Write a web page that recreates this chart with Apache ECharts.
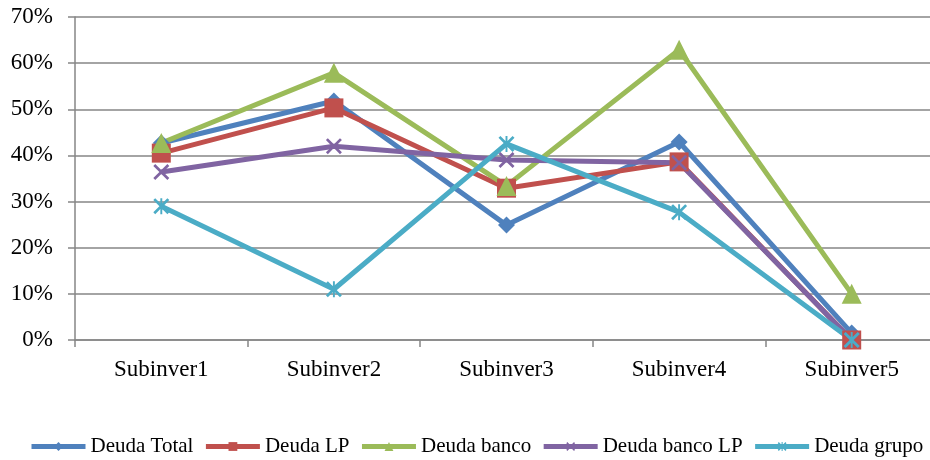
<!DOCTYPE html>
<html>
<head>
<meta charset="utf-8">
<script src="https://cdn.jsdelivr.net/npm/echarts@6/dist/echarts.min.js"></script>
<style>
  html, body { margin: 0; padding: 0; background: #fff; }
  #chart { width: 930px; height: 460px; }
</style>
</head>
<body>
<div id="chart"></div>
<script>
// Categories and series (percent values)
const categories = ['Subinver1', 'Subinver2', 'Subinver3', 'Subinver4', 'Subinver5'];
const deudaTotal   = [42.7, 51.8, 24.9, 42.9, 1.5];
const deudaLP      = [40.5, 50.3, 32.9, 38.6, 0];
const deudaBanco   = [42.7, 57.9, 33.4, 62.9, 10.0];
const deudaBancoLP = [36.4, 42.0, 39.0, 38.4, 0];
const deudaGrupo   = [29.0, 11.0, 42.5, 27.7, 0];
const yTicks = [0, 10, 20, 30, 40, 50, 60, 70];

const seriesNames = ['Deuda Total', 'Deuda LP', 'Deuda banco', 'Deuda banco LP', 'Deuda grupo'];
const seriesData = [deudaTotal, deudaLP, deudaBanco, deudaBancoLP, deudaGrupo];
const colors = ['#4F81BD', '#C0504D', '#9BBB59', '#8064A2', '#4BACC6'];

// Marker shapes: diamond, square, triangle, cross, asterisk
const crossPath = 'path://M0,1.2 L1.2,0 L5,3.8 L8.8,0 L10,1.2 L6.2,5 L10,8.8 L8.8,10 L5,6.2 L1.2,10 L0,8.8 L3.8,5 Z';
const starPath = 'path://M0,1.2 L1.2,0 L5,3.8 L8.8,0 L10,1.2 L6.2,5 L10,8.8 L8.8,10 L5,6.2 L1.2,10 L0,8.8 L3.8,5 Z M4.4,0 L5.6,0 L5.6,10 L4.4,10 Z';
const symbols = ['diamond', 'rect', 'triangle', crossPath, starPath];
const symbolSizes = [17, 19, 20, 16, 16];

const font = '"Liberation Serif", "Times New Roman", serif';

const chart = echarts.init(document.getElementById('chart'), null, { renderer: 'canvas' });
chart.setOption({
  animation: false,
  backgroundColor: '#fff',
  grid: { left: 75, top: 17, width: 863, height: 323, containLabel: false, outerBoundsMode: 'none' },
  xAxis: {
    type: 'category',
    data: categories,
    boundaryGap: true,
    axisLine: { show: true, lineStyle: { color: '#868686', width: 1.5 } },
    axisTick: { show: true, length: 7, lineStyle: { color: '#868686', width: 1.5 } },
    axisLabel: { color: '#000', fontSize: 23, fontFamily: font, margin: 18 },
    splitLine: { show: false }
  },
  yAxis: {
    type: 'value',
    min: yTicks[0],
    max: yTicks[yTicks.length - 1],
    interval: 10,
    axisLine: { show: true, lineStyle: { color: '#868686', width: 1.5 } },
    axisTick: { show: true, length: 7, lineStyle: { color: '#868686', width: 1.5 } },
    axisLabel: { color: '#000', fontSize: 23, fontFamily: font, margin: 22, formatter: '{value}%' },
    splitLine: { show: true, lineStyle: { color: '#868686', width: 1.5 } }
  },
  legend: {
    data: seriesNames,
    top: 436,
    left: 29,
    padding: 0,
    itemWidth: 54,
    itemHeight: 11,
    itemGap: 10,
    lineStyle: { width: 5 },
    textStyle: { color: '#000', fontSize: 21, fontFamily: font }
  },
  series: seriesNames.map((name, i) => ({
    name: name,
    type: 'line',
    data: seriesData[i],
    symbol: symbols[i],
    symbolSize: symbolSizes[i],
    showAllSymbol: true,
    lineStyle: { color: colors[i], width: 5 },
    itemStyle: { color: colors[i] },
    emphasis: { disabled: true }
  }))
});
</script>
</body>
</html>
